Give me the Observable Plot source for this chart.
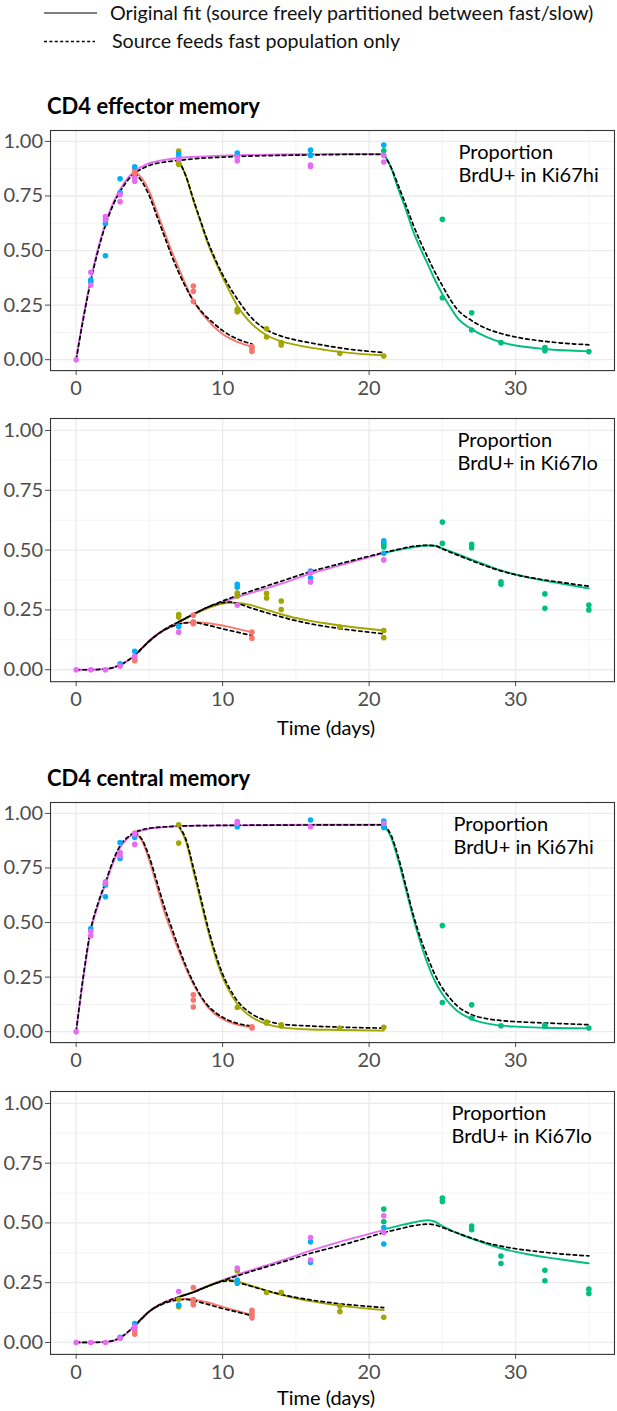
<!DOCTYPE html>
<html><head><meta charset="utf-8">
<script src="https://cdn.jsdelivr.net/npm/d3@7"></script>
<script src="https://cdn.jsdelivr.net/npm/@observablehq/plot@0.6"></script>
<style>
body{margin:0;background:#fff;font-family:Lato,sans-serif;}
#root{position:relative;width:617px;height:1411px;overflow:hidden;background:#fff;}
.abs{position:absolute;white-space:nowrap;line-height:1;}
#root svg{position:absolute;left:0;}
</style></head><body><div id="root"></div>
<script>
// ---- shared scales / ticks ----
const groups = ["4d", "7d", "21d", "cont1", "cont2"];
const groupColors = ["#F8766D", "#A3A500", "#00BF7D", "#00B0F6", "#E76BF3"];
const xMajor = [0, 10, 20, 30];
const xMinor = [5, 15, 25, 35];
const yMajor = [0, 0.25, 0.5, 0.75, 1];
const yMinor = [0.125, 0.375, 0.625, 0.875];
const panelTitles = ["CD4 effector memory", "CD4 central memory"];
const panelLabels = ["Proportion\nBrdU+ in Ki67hi", "Proportion\nBrdU+ in Ki67lo"];
const legendLabels = ["Original fit (source freely partitioned between fast/slow)", "Source feeds fast population only"];
const xTitle = "Time (days)";

// ---- CD4 effector memory, Ki67hi ----
const emHiPoints = [
  ["4d", [[4,0.873],[4,0.862],[4,0.85],[8,0.337],[8,0.313],[8,0.266],[12,0.06],[12,0.05],[12,0.038]]],
  ["7d", [[7,0.956],[7,0.90],[7,0.895],[11,0.231],[11,0.22],[13,0.142],[13,0.104],[14,0.078],[14,0.067],[18,0.029],[21,0.017]]],
  ["21d", [[21,0.957],[25,0.643],[25,0.284],[27,0.215],[27,0.136],[29,0.078],[32,0.056],[32,0.041],[35,0.037]]],
  ["cont1", [[1,0.365],[1,0.357],[2,0.624],[2,0.476],[3,0.829],[3,0.766],[4,0.884],[7,0.942],[7,0.93],[11,0.947],[16,0.96],[16,0.936],[21,0.983]]],
  ["cont2", [[0,0],[1,0.40],[1,0.342],[2,0.656],[2,0.641],[3,0.756],[3,0.724],[4,0.832],[4,0.818],[7,0.919],[11,0.927],[11,0.911],[16,0.892],[16,0.885],[21,0.936],[21,0.906]]]
];
const emHiSolid = [
  ["cont2", [[0,0],[0.5,0.2],[1,0.37],[1.5,0.51],[2,0.625],[2.5,0.715],[3,0.78],[3.5,0.83],[4,0.865],[4.5,0.885],[5,0.9],[6,0.915],[7,0.924],[8,0.929],[10,0.935],[12,0.938],[14,0.94],[16,0.941],[18,0.942],[21,0.942]]],
  ["4d", [[4,0.865],[4.5,0.83],[5,0.77],[5.5,0.68],[6,0.59],[6.5,0.5],[7,0.42],[7.5,0.34],[8,0.27],[8.5,0.22],[9,0.18],[9.5,0.145],[10,0.118],[11,0.082],[12,0.06]]],
  ["7d", [[7,0.915],[7.5,0.84],[8,0.73],[8.5,0.63],[9,0.53],[9.5,0.45],[10,0.377],[10.5,0.31],[11,0.247],[12,0.163],[13,0.112],[14,0.084],[15,0.068],[16,0.055],[17,0.045],[18,0.036],[19,0.029],[21,0.02]]],
  ["21d", [[21,0.942],[21.5,0.88],[22,0.78],[22.5,0.69],[23,0.59],[23.5,0.51],[24,0.438],[24.5,0.365],[25,0.30],[25.5,0.245],[26,0.194],[27,0.14],[28,0.104],[29,0.08],[30,0.065],[32,0.049],[35,0.038]]]
];
const emHiDashed = [
  ["cont2", [[0,0],[0.5,0.19],[1,0.36],[1.5,0.5],[2,0.615],[2.5,0.705],[3,0.77],[3.5,0.82],[4,0.855],[4.5,0.875],[5,0.89],[6,0.905],[7,0.913],[8,0.92],[10,0.928],[12,0.933],[14,0.936],[16,0.938],[18,0.94],[21,0.941]]],
  ["4d", [[4,0.855],[4.5,0.815],[5,0.75],[5.5,0.66],[6,0.57],[6.5,0.48],[7,0.40],[7.5,0.33],[8,0.27],[8.5,0.225],[9,0.19],[9.5,0.16],[10,0.133],[11,0.095],[12,0.072]]],
  ["7d", [[7,0.913],[7.5,0.84],[8,0.735],[8.5,0.635],[9,0.54],[9.5,0.46],[10,0.39],[10.5,0.33],[11,0.278],[12,0.19],[13,0.137],[14,0.108],[15,0.09],[16,0.077],[17,0.065],[18,0.054],[19,0.045],[21,0.033]]],
  ["21d", [[21,0.941],[21.5,0.88],[22,0.797],[22.5,0.71],[23,0.62],[23.5,0.54],[24,0.469],[24.5,0.40],[25,0.339],[25.5,0.28],[26,0.232],[27,0.179],[28,0.143],[29,0.12],[30,0.104],[32,0.084],[35,0.068]]]
];

// ---- CD4 effector memory, Ki67lo ----
const emLoPoints = [
  ["4d", [[4,0.046],[4,0.038],[8,0.228],[8,0.20],[8,0.192],[12,0.157],[12,0.132]]],
  ["7d", [[7,0.231],[7,0.22],[11,0.32],[11,0.308],[13,0.319],[13,0.30],[14,0.287],[14,0.252],[18,0.178],[21,0.164],[21,0.134]]],
  ["21d", [[21,0.529],[21,0.521],[21,0.513],[25,0.617],[25,0.528],[27,0.524],[27,0.51],[29,0.367],[29,0.357],[32,0.317],[32,0.257],[35,0.27],[35,0.25]]],
  ["cont1", [[3,0.025],[4,0.077],[7,0.181],[11,0.357],[11,0.345],[16,0.412],[16,0.383],[21,0.539],[21,0.487]]],
  ["cont2", [[0,0],[1,0],[2,0],[3,0.015],[4,0.056],[7,0.157],[11,0.27],[16,0.405],[16,0.367],[21,0.459]]]
];
const emLoSolid = [
  ["cont2", [[0,0],[1,0],[2,0.003],[2.5,0.008],[3,0.02],[3.5,0.037],[4,0.06],[4.5,0.09],[5,0.122],[5.5,0.147],[6,0.167],[6.5,0.184],[7,0.199],[7.5,0.215],[8,0.231],[9,0.26],[10,0.283],[11,0.304],[12,0.322],[14,0.36],[16,0.402],[18,0.436],[21,0.487]]],
  ["4d", [[4,0.06],[4.5,0.09],[5,0.12],[5.5,0.145],[6,0.165],[6.5,0.18],[7,0.191],[7.5,0.197],[8,0.199],[9,0.195],[10,0.185],[11,0.171],[12,0.157]]],
  ["7d", [[7,0.199],[7.5,0.215],[8,0.23],[8.5,0.245],[9,0.258],[9.5,0.268],[10,0.276],[10.5,0.28],[11,0.279],[12,0.269],[13,0.25],[14,0.232],[15,0.216],[16,0.204],[17,0.194],[18,0.185],[21,0.164]]],
  ["21d", [[21,0.487],[22,0.501],[23,0.512],[24,0.519],[24.5,0.518],[25,0.507],[26,0.484],[27,0.46],[28,0.437],[29,0.415],[30,0.398],[31,0.384],[32,0.372],[33,0.361],[35,0.34]]]
];
const emLoDashed = [
  ["cont2", [[0,0],[1,0],[2,0.003],[3,0.02],[4,0.06],[5,0.12],[6,0.167],[7,0.2],[8,0.232],[9,0.262],[10,0.287],[11,0.31],[12,0.33],[14,0.37],[16,0.41],[18,0.443],[21,0.49]]],
  ["4d", [[4,0.06],[5,0.12],[6,0.165],[7,0.19],[7.5,0.196],[8,0.197],[9,0.186],[10,0.171],[11,0.157],[12,0.143]]],
  ["7d", [[7,0.2],[8,0.232],[9,0.262],[10,0.28],[10.5,0.283],[11,0.277],[12,0.257],[13,0.238],[14,0.221],[15,0.205],[16,0.192],[17,0.181],[18,0.172],[21,0.15]]],
  ["21d", [[21,0.49],[22,0.503],[23,0.516],[24,0.52],[24.5,0.518],[25,0.505],[26,0.48],[27,0.456],[28,0.433],[29,0.413],[30,0.397],[31,0.385],[32,0.375],[33,0.366],[35,0.349]]]
];

// ---- CD4 central memory, Ki67hi ----
const cmHiPoints = [
  ["4d", [[4,0.91],[8,0.169],[8,0.145],[8,0.113],[12,0.017],[12,0.022]]],
  ["7d", [[7,0.948],[7,0.864],[11,0.111],[13,0.044],[13,0.04],[14,0.026],[14,0.032],[18,0.017],[21,0.02]]],
  ["21d", [[21,0.95],[25,0.486],[25,0.134],[27,0.123],[27,0.063],[29,0.027],[32,0.025],[32,0.03],[35,0.017]]],
  ["cont1", [[1,0.473],[2,0.672],[2,0.618],[3,0.867],[3,0.794],[4,0.89],[11,0.939],[16,0.97],[21,0.965],[21,0.935]]],
  ["cont2", [[0,0],[1,0.46],[1,0.44],[2,0.687],[2,0.68],[3,0.821],[3,0.806],[4,0.905],[4,0.858],[11,0.963],[11,0.955],[16,0.939],[21,0.955]]]
];
const cmHiSolid = [
  ["cont2", [[0,0],[0.5,0.25],[1,0.46],[1.5,0.58],[2,0.676],[2.5,0.77],[3,0.844],[3.5,0.885],[4,0.908],[4.5,0.922],[5,0.93],[6,0.937],[7,0.942],[8,0.944],[10,0.945],[12,0.946],[16,0.948],[21,0.948]]],
  ["4d", [[4,0.908],[4.5,0.875],[5,0.783],[5.5,0.67],[6,0.554],[6.5,0.46],[7,0.371],[7.5,0.29],[8,0.218],[8.5,0.16],[9,0.111],[9.5,0.08],[10,0.058],[11,0.032],[12,0.02]]],
  ["7d", [[7,0.942],[7.5,0.87],[8,0.737],[8.5,0.6],[9,0.463],[9.5,0.345],[10,0.249],[10.5,0.18],[11,0.127],[12,0.066],[13,0.035],[14,0.02],[16,0.01],[18,0.008],[21,0.005]]],
  ["21d", [[21,0.948],[21.5,0.89],[22,0.783],[22.5,0.655],[23,0.524],[23.5,0.41],[24,0.31],[24.5,0.23],[25,0.173],[25.5,0.128],[26,0.096],[27,0.058],[28,0.038],[29,0.028],[30,0.023],[32,0.018],[35,0.015]]]
];
const cmHiDashed = [
  ["cont2", [[0,0],[0.5,0.26],[1,0.47],[1.5,0.59],[2,0.684],[2.5,0.78],[3,0.852],[3.5,0.89],[4,0.913],[4.5,0.925],[5,0.932],[6,0.938],[7,0.942],[10,0.945],[16,0.947],[21,0.948]]],
  ["4d", [[4,0.913],[4.5,0.88],[5,0.80],[5.5,0.69],[6,0.577],[6.5,0.48],[7,0.386],[7.5,0.3],[8,0.226],[8.5,0.165],[9,0.119],[9.5,0.088],[10,0.066],[11,0.038],[12,0.026]]],
  ["7d", [[7,0.942],[7.5,0.88],[8,0.753],[8.5,0.615],[9,0.478],[9.5,0.36],[10,0.264],[10.5,0.195],[11,0.142],[12,0.081],[13,0.05],[14,0.035],[16,0.026],[18,0.021],[21,0.016]]],
  ["21d", [[21,0.948],[21.5,0.9],[22,0.798],[22.5,0.67],[23,0.539],[23.5,0.43],[24,0.34],[24.5,0.26],[25,0.2],[25.5,0.155],[26,0.119],[27,0.078],[28,0.06],[29,0.051],[30,0.046],[32,0.04],[35,0.032]]]
];

// ---- CD4 central memory, Ki67lo ----
const cmLoPoints = [
  ["4d", [[4,0.049],[4,0.035],[8,0.23],[8,0.179],[8,0.167],[8,0.158],[12,0.135],[12,0.123],[12,0.113],[12,0.103]]],
  ["7d", [[7,0.181],[7,0.149],[11,0.30],[11,0.254],[13,0.209],[14,0.209],[18,0.153],[18,0.129],[21,0.105]]],
  ["21d", [[21,0.558],[21,0.505],[25,0.604],[25,0.59],[27,0.487],[27,0.472],[29,0.362],[29,0.33],[32,0.302],[32,0.258],[35,0.223],[35,0.205]]],
  ["cont1", [[3,0.021],[4,0.079],[7,0.156],[11,0.261],[11,0.248],[16,0.421],[16,0.335],[21,0.481],[21,0.412]]],
  ["cont2", [[0,0],[1,0],[2,0],[3,0.018],[4,0.066],[4,0.06],[7,0.213],[11,0.311],[16,0.439],[16,0.345],[21,0.53],[21,0.46]]]
];
const cmLoSolid = [
  ["cont2", [[0,0],[1,0],[2,0.002],[2.5,0.006],[3,0.018],[3.5,0.04],[4,0.07],[4.5,0.1],[5,0.13],[5.5,0.152],[6,0.167],[7,0.191],[8,0.212],[9,0.237],[10,0.261],[11,0.283],[12,0.303],[14,0.342],[16,0.384],[18,0.421],[21,0.47]]],
  ["4d", [[4,0.07],[4.5,0.1],[5,0.13],[5.5,0.15],[6,0.165],[6.5,0.175],[7,0.181],[7.5,0.183],[8,0.18],[9,0.167],[10,0.149],[11,0.132],[12,0.114]]],
  ["7d", [[7,0.191],[8,0.212],[9,0.237],[10,0.258],[10.5,0.262],[11,0.255],[12,0.237],[13,0.216],[14,0.199],[15,0.185],[16,0.173],[18,0.154],[21,0.136]]],
  ["21d", [[21,0.473],[22,0.488],[23,0.502],[24,0.511],[24.5,0.505],[25,0.487],[26,0.458],[27,0.434],[28,0.413],[29,0.394],[30,0.379],[31,0.367],[32,0.357],[33,0.348],[35,0.331]]]
];
const cmLoDashed = [
  ["cont2", [[0,0],[1,0],[2,0.002],[3,0.02],[4,0.07],[5,0.13],[6,0.167],[7,0.19],[8,0.21],[9,0.235],[10,0.258],[12,0.298],[14,0.335],[16,0.373],[18,0.405],[21,0.46]]],
  ["4d", [[4,0.07],[5,0.13],[6,0.163],[7,0.178],[7.5,0.18],[8,0.175],[9,0.159],[10,0.142],[11,0.127],[12,0.112]]],
  ["7d", [[7,0.19],[8,0.21],[9,0.235],[10,0.255],[10.5,0.258],[11,0.251],[12,0.234],[13,0.217],[14,0.201],[16,0.178],[18,0.162],[21,0.146]]],
  ["21d", [[21,0.46],[22,0.474],[23,0.488],[24,0.495],[24.5,0.492],[25,0.481],[26,0.458],[27,0.436],[28,0.417],[29,0.403],[30,0.392],[31,0.384],[32,0.377],[33,0.371],[35,0.362]]]
];

// ---- build ----
const root = document.getElementById("root");
const flat = arr => arr.flatMap(([group, pts]) => pts.map(([day, value]) => ({group, day, value})));

function addDiv(text, css) {
  const d = document.createElement("div");
  d.className = "abs";
  d.textContent = text;
  Object.assign(d.style, css);
  root.appendChild(d);
  return d;
}

function panel(points, solid, dashed, label, frameTop, plotH, labelDx) {
  const mt = 10, mb = 35;
  const svg = Plot.plot({
    width: 617,
    height: mt + plotH + mb,
    marginTop: mt, marginBottom: mb, marginLeft: 50, marginRight: 3,
    x: {domain: [-1.75, 36.75]},
    y: {domain: [-0.05, 1.05]},
    color: {domain: groups, range: groupColors},
    style: {fontFamily: "Lato, sans-serif", fontSize: "20px", color: "#4d4d4d", background: "transparent", overflow: "visible"},
    marks: [
      Plot.gridX(xMinor, {stroke: "#efefef", strokeOpacity: 1, strokeWidth: 0.7}),
      Plot.gridY(yMinor, {stroke: "#efefef", strokeOpacity: 1, strokeWidth: 0.7}),
      Plot.gridX(xMajor, {stroke: "#ebebeb", strokeOpacity: 1, strokeWidth: 1.3}),
      Plot.gridY(yMajor, {stroke: "#ebebeb", strokeOpacity: 1, strokeWidth: 1.3}),
      Plot.axisX(xMajor, {tickSize: 5, tickPadding: 5, label: null, tickFormat: d => String(d)}),
      Plot.axisY(yMajor, {tickSize: 5, tickPadding: 2.5, label: null, tickFormat: d3.format(".2f")}),
      Plot.line(flat(solid), {x: "day", y: "value", z: "group", stroke: "group", strokeWidth: 1.9, curve: "monotone-x"}),
      Plot.line(flat(dashed), {x: "day", y: "value", z: "group", stroke: "black", strokeWidth: 1.7, strokeDasharray: "3.5,3.2", curve: "monotone-x"}),
      Plot.dot(flat(points), {x: "day", y: "value", fill: "group", r: 2.8}),
      Plot.text([label], {text: d => d, frameAnchor: "top-left", dx: labelDx, dy: 12.5, textAnchor: "start", lineAnchor: "top", lineHeight: 1.13, fill: "black", fontSize: 20}),
      Plot.frame({stroke: "#333", strokeWidth: 1.1})
    ]
  });
  svg.style.top = (frameTop - mt) + "px";
  root.appendChild(svg);
}

// legend
const ns = "http://www.w3.org/2000/svg";
const leg = document.createElementNS(ns, "svg");
leg.setAttribute("width", 120); leg.setAttribute("height", 60);
leg.style.top = "0px";
leg.innerHTML = '<line x1="44" x2="97" y1="13" y2="13" stroke="black" stroke-width="1.2"/>' +
  '<line x1="44" x2="95" y1="41.5" y2="41.5" stroke="black" stroke-width="1.4" stroke-dasharray="3,2.4"/>';
root.appendChild(leg);
addDiv(legendLabels[0], {left: "110px", top: (13 - 0.527 * 19.7) + "px", fontSize: "19.7px", color: "#111"});
addDiv(legendLabels[1], {left: "112px", top: (41.5 - 0.527 * 19.7) + "px", fontSize: "19.7px", color: "#111"});

addDiv(panelTitles[0], {left: "47px", top: (106.5 - 0.527 * 22) + "px", fontSize: "22px", fontWeight: "bold", color: "#000"});
addDiv(panelTitles[1], {left: "47px", top: (778.3 - 0.527 * 22) + "px", fontSize: "22px", fontWeight: "bold", color: "#000"});

panel(emHiPoints, emHiSolid, emHiDashed, panelLabels[0], 129.8, 240.1, 408);
panel(emLoPoints, emLoSolid, emLoDashed, panelLabels[1], 418.0, 263.2, 407);
panel(cmHiPoints, cmHiSolid, cmHiDashed, panelLabels[0], 801.8, 240.1, 403);
panel(cmLoPoints, cmLoSolid, cmLoDashed, panelLabels[1], 1090.8, 262.9, 401);

addDiv(xTitle, {left: "226px", width: "200px", textAlign: "center", top: (728 - 0.527 * 20) + "px", fontSize: "20px", color: "#000"});
addDiv(xTitle, {left: "226px", width: "200px", textAlign: "center", top: (1398 - 0.527 * 20) + "px", fontSize: "20px", color: "#000"});
</script>
</body></html>
